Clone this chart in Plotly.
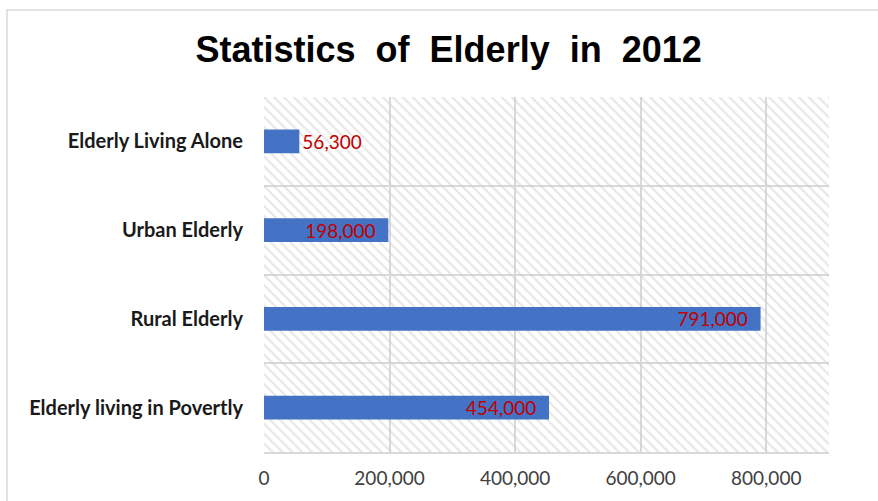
import plotly.graph_objects as go

categories = ["Elderly living in Povertly", "Rural Elderly", "Urban Elderly", "Elderly Living Alone"]
values = [454000, 791000, 198000, 56300]
x_ticks = [0, 200000, 400000, 600000, 800000]
x_tick_labels = ["0", "200,000", "400,000", "600,000", "800,000"]

fig = go.Figure()

# hatched plot-area background on base axes
fig.add_trace(go.Bar(
    x=[1], y=[0.5], width=[1], orientation="h",
    marker=dict(color="rgba(0,0,0,0)", line=dict(width=0),
                pattern=dict(shape="\\", fgcolor="#cdcdcd", bgcolor="rgba(0,0,0,0)", size=7, solidity=0.3)),
    xaxis="x", yaxis="y", hoverinfo="skip", showlegend=False,
))

nbsp = "\u00a0" * 2
label_pos = ["inside" if v > 100000 else "outside" for v in values]
fig.add_trace(go.Bar(
    x=values, y=categories, orientation="h",
    marker=dict(color="#4472C4", line=dict(width=0)),
    text=[f"{v:,}" + (nbsp if v > 100000 else "") for v in values],
    textposition=label_pos, insidetextanchor="end", constraintext="none",
    textfont=dict(family="Lato", size=19, color="#C00000"),
    xaxis="x2", yaxis="y2", showlegend=False, cliponaxis=False,
))

fig.update_layout(
    width=878, height=501,
    margin=dict(l=264, r=49, t=97, b=47),
    paper_bgcolor="white", plot_bgcolor="white",
    bargap=0.73,
    title=dict(text="Statistics  of  Elderly  in  2012", x=0.511, xanchor="center", y=0.902, yanchor="middle",
               font=dict(family="Liberation Sans", size=36, color="black", weight="bold")),
    xaxis=dict(range=[0, 1], visible=False, fixedrange=True),
    yaxis=dict(range=[0, 1], visible=False, fixedrange=True),
    xaxis2=dict(overlaying="x", range=[0, 900000], tickvals=x_ticks, ticktext=x_tick_labels,
                showgrid=True, gridcolor="#d9d9d9", gridwidth=1.5, zeroline=False,
                showline=True, linecolor="#d9d9d9", linewidth=1.5, ticks="", ticklabelstandoff=8,
                tickfont=dict(family="Lato", size=19, color="#404040"), anchor="y2", side="bottom"),
    yaxis2=dict(overlaying="y", type="category", categoryorder="array", categoryarray=categories,
                tickson="boundaries", showgrid=True, gridcolor="#d9d9d9", gridwidth=1.5,
                showline=False, ticks="", ticklabelstandoff=20, anchor="x2",
                tickfont=dict(family="Lato", size=20, color="#1a1a1a", weight="bold")),
    shapes=[dict(type="rect", xref="paper", yref="paper",
                 x0=(7 - 264) / 565, x1=(890 - 264) / 565,
                 y0=1 + (97 - 9.5) / 357, y1=-1,
                 line=dict(color="#d9d9d9", width=1.5), fillcolor="rgba(0,0,0,0)", layer="below")],
)

fig.write_html("out.html")
